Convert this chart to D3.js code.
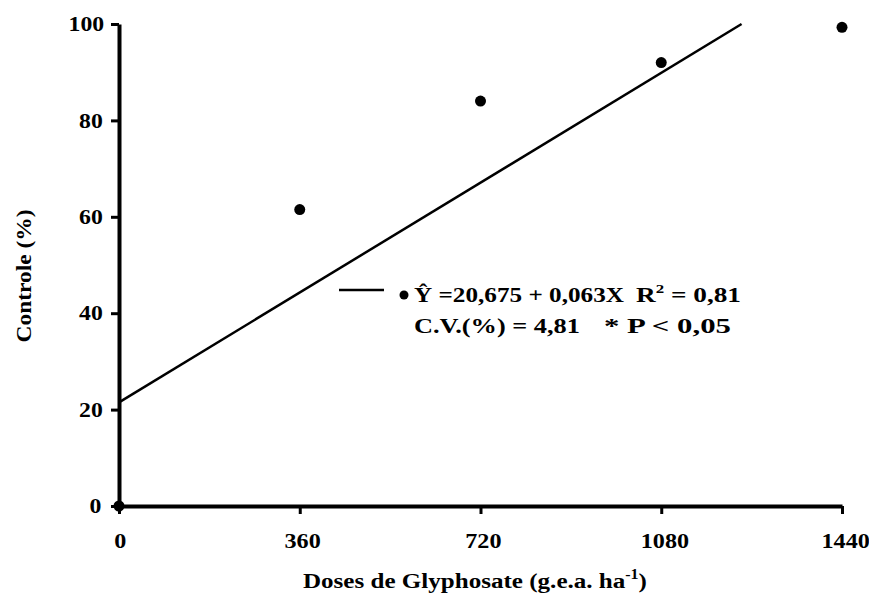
<!DOCTYPE html>
<html>
<head>
<meta charset="utf-8">
<script src="https://cdn.jsdelivr.net/npm/d3@7"></script>
<style>
  body { margin: 0; background: #fff; }
  svg { display: block; font-family: "Liberation Serif", "Times New Roman", serif; font-weight: bold; }
</style>
</head>
<body>
<script>
// observed values
const doses = [0, 360, 720, 1080, 1440]
const controle = [0, 61.5, 84, 92, 99.3]

// fitted line as drawn (clipped at 100)
const trendDoses = [0, 1240]
const trendValues = [21.5, 100]

const xTicks = [0, 360, 720, 1080, 1440]
const yTicks = [0, 20, 40, 60, 80, 100]

const width = 869
const height = 595

const svg = d3.select('body').append('svg')
  .attr('width', width)
  .attr('height', height)

const xScale = d3.scaleLinear().domain([0, 1440]).range([119, 842])
const yScale = d3.scaleLinear().domain([0, 100]).range([506, 24])

// widen a text horizontally around its anchor point
function stretch(sel, k) {
  sel.each(function() {
    const bb = this.getBBox()
    const anchor = d3.select(this).attr('text-anchor') || 'start'
    let ax = bb.x
    if (anchor === 'middle') ax = bb.x + bb.width / 2
    if (anchor === 'end') ax = bb.x + bb.width
    d3.select(this).attr('transform', 'translate(' + ax + ',0) scale(' + k + ',1) translate(' + (-ax) + ',0)')
  })
}

// squeeze/stretch a text so it spans x0..x1
function fit(sel, x0, x1) {
  const bb = sel.node().getBBox()
  const k = (x1 - x0) / bb.width
  sel.attr('transform', 'translate(' + x0 + ',0) scale(' + k + ',1) translate(' + (-bb.x) + ',0)')
}

// y axis
const yAxis = svg.append('g')
  .attr('transform', 'translate(' + xScale(0) + ',0)')
  .call(d3.axisLeft(yScale).tickValues(yTicks).tickFormat(d3.format('d'))
    .tickSize(8).tickSizeOuter(0).tickPadding(11))
yAxis.select('.domain').attr('stroke-width', 4)
yAxis.selectAll('.tick line').attr('stroke-width', 3)
yAxis.selectAll('.tick text')
  .attr('font-size', 21)
  .attr('font-family', 'Liberation Serif')
  .attr('font-weight', 'bold')
  .attr('fill', '#000')
  .call(stretch, 1.13)

// x axis
const xAxis = svg.append('g')
  .attr('transform', 'translate(0,' + yScale(0) + ')')
  .call(d3.axisBottom(xScale).tickValues(xTicks).tickFormat(d3.format('d'))
    .tickSize(8).tickSizeOuter(0).tickPadding(19))
xAxis.select('.domain').attr('stroke-width', 4)
xAxis.selectAll('.tick line').attr('stroke-width', 3)
xAxis.selectAll('.tick text')
  .attr('font-size', 21)
  .attr('font-family', 'Liberation Serif')
  .attr('font-weight', 'bold')
  .attr('fill', '#000')
  .call(stretch, 1.15)

// regression line
const line = d3.line()
  .x(d => xScale(d[0]))
  .y(d => yScale(d[1]))
svg.append('path')
  .datum(d3.zip(trendDoses, trendValues))
  .attr('d', line)
  .attr('fill', 'none')
  .attr('stroke', '#000')
  .attr('stroke-width', 2.5)

// points
svg.append('g').selectAll('circle')
  .data(d3.zip(doses, controle))
  .join('circle')
  .attr('cx', d => xScale(d[0]))
  .attr('cy', d => yScale(d[1]))
  .attr('r', 5.5)
  .attr('fill', '#000')

// axis titles
const xTitle = svg.append('text')
  .attr('x', 480)
  .attr('y', 588)
  .attr('font-size', 22)
xTitle.append('tspan').text('Doses de Glyphosate (g.e.a. ha')
xTitle.append('tspan').attr('font-size', 14).attr('dy', -9).text('-1')
xTitle.append('tspan').attr('dy', 9).text(')')
fit(xTitle, 303, 647)

svg.append('text')
  .attr('transform', 'translate(31,276) rotate(-90)')
  .attr('text-anchor', 'middle')
  .attr('font-size', 22)
  .attr('textLength', 133)
  .attr('lengthAdjust', 'spacingAndGlyphs')
  .text('Controle (%)')

// legend
const legend = svg.append('g')
legend.append('line')
  .attr('x1', 339).attr('x2', 384)
  .attr('y1', 290).attr('y2', 290)
  .attr('stroke', '#000')
  .attr('stroke-width', 2.5)
legend.append('circle')
  .attr('cx', 404).attr('cy', 295).attr('r', 4.5)
  .attr('fill', '#000')

const eq = legend.append('text').attr('y', 302).attr('font-size', 21)
  .text('Ŷ =20,675 + 0,063X')
fit(eq, 414, 624)

const r2 = legend.append('text').attr('y', 302).attr('font-size', 21)
r2.append('tspan').text('R')
r2.append('tspan').attr('font-size', 13).attr('dy', -9).text('2')
r2.append('tspan').attr('dy', 9).text(' = 0,81')
fit(r2, 636, 741)

const cv = legend.append('text').attr('y', 333).attr('font-size', 21)
  .text('C.V.(%) = 4,81')
fit(cv, 414, 580)

const pv = legend.append('text').attr('y', 333).attr('font-size', 21)
  .text('* P < 0,05')
fit(pv, 604, 731)
</script>
</body>
</html>
